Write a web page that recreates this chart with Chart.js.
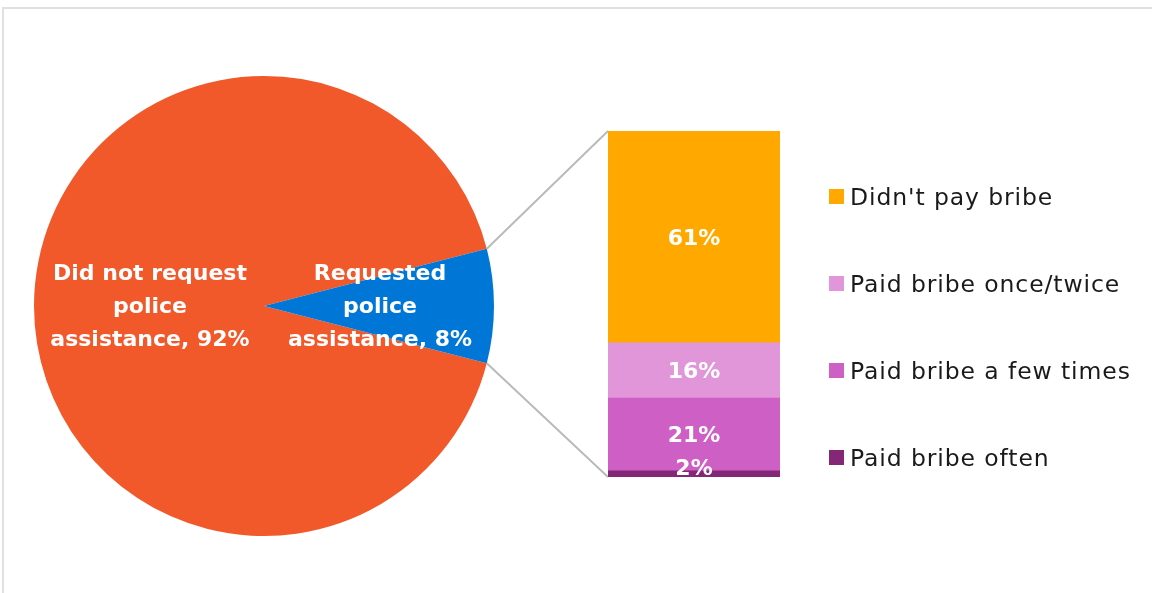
<!DOCTYPE html>
<html lang="en">
<head>
    <meta charset="UTF-8">
    <title>Police assistance and bribes</title>
    <script src="https://cdn.jsdelivr.net/npm/chart.js"></script>
    <style>
        body { margin: 0; padding: 0; background: #fff; font-family: "DejaVu Sans", sans-serif; }
        .wrap { position: relative; width: 1152px; height: 593px; overflow: hidden; }
        .frame { position: absolute; left: 2px; top: 7px; width: 1200px; height: 640px; border: 2px solid #e0e0e0; box-sizing: border-box; }
        .layer { position: absolute; left: 0; top: 0; }
        #legend { position: absolute; left: 829px; top: 153px; list-style: none; margin: 0; padding: 0; }
        #legend li { height: 87px; display: flex; align-items: center; font-size: 23.5px; letter-spacing: 0.9px; color: #1a1a1a; white-space: nowrap; }
        #legend span.box { display: inline-block; width: 15px; height: 15px; margin-right: 6px; }
    </style>
</head>
<body>
    <div class="wrap">
        <div class="frame"></div>
        <div class="layer" style="width:1152px;height:593px;"><canvas id="pieCanvas"></canvas></div>
        <div class="layer" style="width:1152px;height:593px;"><canvas id="barCanvas"></canvas></div>
        <ul id="legend"></ul>
    </div>

    <script>
        // pie: share who asked the police for help
        const pieLabels = [['Did not request', 'police', 'assistance'], ['Requested', 'police', 'assistance']];
        const pieValues = [92, 8];
        const pieColors = ['#F1582A', '#0077D7'];

        // stacked bar: of those who requested help (top to bottom)
        const bribeLabels = ["Didn't pay bribe", 'Paid bribe once/twice', 'Paid bribe a few times', 'Paid bribe often'];
        const bribeValues = [61, 16, 21, 2];
        const bribeColors = ['#FFA800', '#E096D8', '#CE5FC5', '#842777'];

        const labelFont = 'bold 22px "DejaVu Sans", sans-serif';

        // white percentage labels inside slices / bar segments
        const valueLabels = {
            id: 'valueLabels',
            afterDatasetsDraw(chart) {
                const ctx = chart.ctx;
                ctx.save();
                ctx.fillStyle = '#fff';
                ctx.font = labelFont;
                ctx.textAlign = 'center';
                ctx.textBaseline = 'middle';
                if (chart.config.type === 'pie') {
                    chart.getDatasetMeta(0).data.forEach((arc, i) => {
                        const pos = arc.tooltipPosition();
                        const lines = pieLabels[i].slice();
                        lines[lines.length - 1] += ', ' + pieValues[i] + '%';
                        const lh = 33;
                        const y0 = pos.y + 1 - (lines.length - 1) * lh / 2;
                        lines.forEach((t, j) => ctx.fillText(t, pos.x + 1, y0 + j * lh));
                    });
                } else {
                    chart.data.datasets.forEach((ds, i) => {
                        const bar = chart.getDatasetMeta(i).data[0];
                        const cy = (bar.y + bar.base) / 2 + 3;
                        ctx.fillText(ds.data[0] + '%', bar.x, i === 3 ? cy - 7 : cy);
                    });
                }
                ctx.restore();
            }
        };

        const pieChart = new Chart(document.getElementById('pieCanvas'), {
            type: 'pie',
            data: {
                labels: pieLabels,
                datasets: [{
                    data: pieValues,
                    backgroundColor: pieColors,
                    borderWidth: 0
                }]
            },
            options: {
                responsive: true,
                maintainAspectRatio: false,
                animation: false,
                rotation: 104.4,
                layout: { padding: { left: 34, top: 76, right: 658, bottom: 57 } },
                plugins: { legend: { display: false }, tooltip: { enabled: false } }
            },
            plugins: [valueLabels]
        });

        // grey lines from the small slice to the bar
        const connectors = {
            id: 'connectors',
            beforeDatasetsDraw(chart) {
                const arc = pieChart.getDatasetMeta(0).data[1];
                const top = chart.getDatasetMeta(0).data[0];
                const bottom = chart.getDatasetMeta(3).data[0];
                const left = top.x - top.width / 2;
                const ctx = chart.ctx;
                ctx.save();
                ctx.strokeStyle = '#BABABA';
                ctx.lineWidth = 2;
                ctx.beginPath();
                ctx.moveTo(arc.x + arc.outerRadius * Math.cos(arc.startAngle), arc.y + arc.outerRadius * Math.sin(arc.startAngle));
                ctx.lineTo(left, Math.min(top.y, top.base));
                ctx.moveTo(arc.x + arc.outerRadius * Math.cos(arc.endAngle), arc.y + arc.outerRadius * Math.sin(arc.endAngle));
                ctx.lineTo(left, Math.max(bottom.y, bottom.base));
                ctx.stroke();
                ctx.restore();
            }
        };

        const barChart = new Chart(document.getElementById('barCanvas'), {
            type: 'bar',
            data: {
                labels: ['Requested police assistance'],
                datasets: bribeLabels.map((label, i) => ({
                    label: label,
                    data: [bribeValues[i]],
                    backgroundColor: bribeColors[i],
                    borderWidth: 0,
                    barPercentage: 1,
                    categoryPercentage: 1
                }))
            },
            options: {
                responsive: true,
                maintainAspectRatio: false,
                animation: false,
                layout: { padding: { left: 608, top: 131, right: 372, bottom: 116 } },
                scales: {
                    x: { stacked: true, display: false },
                    y: { stacked: true, display: false, reverse: true, min: 0, max: 100 }
                },
                plugins: { legend: { display: false }, tooltip: { enabled: false } }
            },
            plugins: [connectors, valueLabels]
        });

        // html legend built from the bar datasets
        const legend = document.getElementById('legend');
        barChart.data.datasets.forEach(ds => {
            const li = document.createElement('li');
            const box = document.createElement('span');
            box.className = 'box';
            box.style.background = ds.backgroundColor;
            li.appendChild(box);
            li.appendChild(document.createTextNode(ds.label));
            legend.appendChild(li);
        });
    </script>
</body>
</html>
